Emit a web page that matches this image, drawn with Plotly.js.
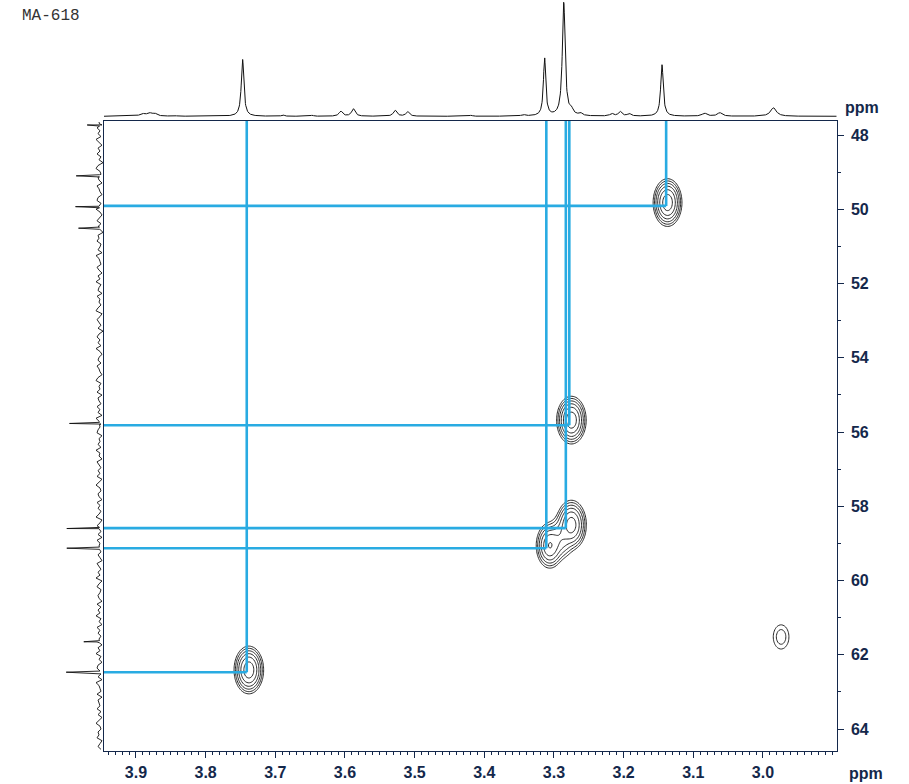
<!DOCTYPE html>
<html><head><meta charset="utf-8">
<script src="https://cdn.plot.ly/plotly-3.0.1.min.js"></script>
<style>html,body{margin:0;padding:0;background:#fff}</style>
</head><body><div id="chart" style="width:909px;height:784px"></div>
<script>
// ---- axis ranges (ppm) ----
const xRange = [3.9459, 2.8942];      // 1H, reversed
const yRange = [64.579, 47.623];      // 13C, reversed (top = 47.6)
const xTicks = [3.9, 3.8, 3.7, 3.6, 3.5, 3.4, 3.3, 3.2, 3.1, 3.0];
const yTicks = [48, 50, 52, 54, 56, 58, 60, 62, 64];

// ---- HSQC cross peaks ----
const peakH   = [3.137, 3.275, 3.275, 3.290, 3.306, 3.738, 2.974];
const peakC   = [49.82, 55.68, 58.50, 58.85, 59.06, 62.41, 61.52];
const peakAmp = [1.0,   1.0,   0.9,   0.25,  0.65,  1.0,   0.06];
const peakSigH = [0.0074, 0.0076, 0.0078, 0.0080, 0.0074, 0.0076, 0.0076];
const peakSigC = [0.23,   0.23,   0.24,   0.24,   0.23,   0.23,   0.22];

// ---- assignment cross-lines ----
const assignH = [3.741, 3.311, 3.283, 3.278, 3.139];
const assignC = [62.47, 59.13, 58.59, 55.82, 49.91];

// ---- 1H projection (top) ----
const hPpm = [3.747, 3.3135, 3.286, 3.145, 2.985, 3.606, 3.588, 3.528, 3.510, 3.689, 3.891, 3.881, 3.873, 3.846, 3.647, 3.419, 3.344, 3.275, 3.262, 3.217, 3.205, 3.192, 3.084, 3.062];
const hInt = [57, 58, 113.6, 51.5, 8.5, 5, 7.5, 6, 4.5, 1.5, 2.5, 3, 2.5, 1, 1, 1, 1.5, 5, 2.5, 2.5, 4.5, 2.5, 3, 3.5];
const hHw  = [0.0022, 0.0020, 0.0024, 0.0022, 0.005, 0.003, 0.003, 0.003, 0.003, 0.002, 0.004, 0.004, 0.004, 0.003, 0.002, 0.002, 0.003, 0.003, 0.003, 0.003, 0.003, 0.003, 0.004, 0.004];

// ---- 13C projection (left) ----
const cPpm = [47.73, 49.10, 49.93, 50.51, 55.77, 58.60, 59.13, 61.65, 62.47];
const cInt = [12.8, 23.8, 24.5, 21.5, 30.5, 33.2, 33.2, 16.2, 33.8];
const cNoise = [1,-2,3,0,2,-1,4,1,-2,2,0,3,-1,1,-3,2,4,0,-1,2,1,-2,3,1,0,-2,2,3,-1,1,4,0,-2,1,3,-1,2,0,-3,2,1,3,-1,0,2,-2,4,1,0,-1,3,1,-2,2,0,4,-1,1,2,-2,3,0,1,-1,2,4,-2,0,3,1,-1,2,-3,1,3,0,2,-1,4,0,-2,1,2,-1,3,1,0,-2,2,4,-1,1,0,3,-2,2,1,-1,3,0,2,-2,4,1,-1,0,2,3,-2,1,0,2,-1,4,0,1,-2,3,1,-1,2,0,3,-2,1,4,0,-1,2,1,-2,3,0,2,-1,1,4,-2,0,3,1,-1,2,-2,3,0,1,4,-1,2,0,-2,3,1,-1,2,0,4,-2,1,3,-1,0,2,1,-2,3,-1,2,0,4,-1,1,-2,3,0,2,-1,1,3,-2,2,0,4,-1,1,-2,2,3,0,-1,2,-2,4,1,0,-1,3,-2,2,1,0,3,-1,2,-2,1,4,0,-1,2,1,3,-2,0,2,-1];

// ---- styles ----
const NAVY = '#14284b';
const BLUE = '#29abe2';
const W = 909, H = 784;
const px = v => v / W, py = v => 1 - v / H;

// contour grid built from the peak list
const nx = 560, ny = 460;
const gx = [], gy = [];
for (let i = 0; i < nx; i++) gx.push(xRange[1] + (xRange[0] - xRange[1]) * i / (nx - 1));
for (let j = 0; j < ny; j++) gy.push(yRange[1] + (yRange[0] - yRange[1]) * j / (ny - 1));
const gz = gy.map(c => gx.map(h => {
  let s = 0;
  for (let k = 0; k < peakH.length; k++) {
    const dx = (h - peakH[k]) / peakSigH[k], dy = (c - peakC[k]) / peakSigC[k];
    s += peakAmp[k] * Math.exp(-0.5 * (dx * dx + dy * dy));
  }
  return Math.log(Math.max(s, 1e-5));
}));

// cross-lines
const lx = [], ly = [];
for (let i = 0; i < assignH.length; i++) {
  lx.push(assignH[i], assignH[i], null, xRange[0], assignH[i], null);
  ly.push(yRange[1], assignC[i], null, assignC[i], assignC[i], null);
}

// 1H projection line
const hx = [], hy = [];
const nh = 2400;
for (let i = 0; i < nh; i++) {
  const x = xRange[0] + (xRange[1] - xRange[0]) * i / (nh - 1);
  let s = 0;
  for (let k = 0; k < hPpm.length; k++) {
    const d = (x - hPpm[k]) / hHw[k];
    s += hInt[k] / (1 + d * d);
  }
  hx.push(x); hy.push(s);
}

// 13C projection: noise points + spikes
const cpts = [];
for (let i = 0; i < cNoise.length; i++) {
  cpts.push([47.65 + (64.55 - 47.65) * i / (cNoise.length - 1), cNoise[i]]);
}
for (let k = 0; k < cPpm.length; k++) {
  cpts.push([cPpm[k] - 0.03, 0.5], [cPpm[k], cInt[k]], [cPpm[k] + 0.03, 0.5]);
}
cpts.sort((a, b) => a[0] - b[0]);

const traces = [
  {type: 'contour', x: gx, y: gy, z: gz, xaxis: 'x', yaxis: 'y',
   autocontour: false, contours: {start: Math.log(0.02), end: Math.log(0.7), size: Math.log(2), coloring: 'lines'},
   colorscale: [[0, '#111'], [1, '#111']],
   line: {color: '#111', width: 0.9, smoothing: 1}, showscale: false, hoverinfo: 'skip'},
  {type: 'scatter', mode: 'lines', x: lx, y: ly, xaxis: 'x', yaxis: 'y',
   line: {color: BLUE, width: 2.6}, hoverinfo: 'skip'},
  {type: 'scatter', mode: 'lines', x: hx, y: hy, xaxis: 'x2', yaxis: 'y2',
   line: {color: '#111', width: 1}, hoverinfo: 'skip'},
  {type: 'scatter', mode: 'lines', x: cpts.map(p => p[1]), y: cpts.map(p => p[0]), xaxis: 'x3', yaxis: 'y3',
   line: {color: '#111', width: 0.9}, hoverinfo: 'skip'}
];

const tickFont = {family: 'Liberation Sans, Arial, sans-serif', size: 16, color: NAVY, weight: 'bold'};

const layout = {
  width: W, height: H, margin: {l: 0, r: 0, t: 0, b: 0},
  paper_bgcolor: '#fff', plot_bgcolor: 'rgba(0,0,0,0)', showlegend: false,
  xaxis: {domain: [px(104), px(836.7)], range: xRange, anchor: 'y',
    tickvals: xTicks, ticktext: xTicks.map(v => v.toFixed(1)), ticks: 'outside', ticklen: 6, tickwidth: 1, tickcolor: NAVY,
    minor: {dtick: 0.01, tick0: 3.0, ticks: 'outside', ticklen: 3, tickcolor: NAVY, tickwidth: 1},
    showline: true, linecolor: NAVY, linewidth: 1, mirror: true, showgrid: false, zeroline: false,
    tickfont: tickFont, ticklabelstandoff: 1},
  yaxis: {domain: [py(750.5), py(121)], range: yRange, anchor: 'x', side: 'right',
    tickvals: yTicks, ticks: 'outside', ticklen: 6, tickwidth: 1, tickcolor: NAVY,
    minor: {dtick: 1, tick0: 48, ticks: 'outside', ticklen: 3, tickcolor: NAVY, tickwidth: 1},
    showline: true, linecolor: NAVY, linewidth: 1, mirror: true, showgrid: false, zeroline: false,
    tickfont: tickFont, ticklabelstandoff: 4},
  xaxis2: {domain: [px(104), px(836.7)], range: xRange, anchor: 'y2', visible: false},
  yaxis2: {domain: [py(118), 1], range: [-1.7, 116.3], anchor: 'x2', visible: false},
  xaxis3: {domain: [px(60), px(104)], range: [40, -4], anchor: 'y3', visible: false},
  yaxis3: {domain: [py(750.5), py(121)], range: yRange, anchor: 'x3', visible: false},
  annotations: [
    {text: 'MA-618', xref: 'paper', yref: 'paper', x: px(20), y: py(16), xanchor: 'left', yanchor: 'middle',
     showarrow: false, font: {family: 'Liberation Mono, Courier New, monospace', size: 16, color: '#333'}},
    {text: 'ppm', xref: 'paper', yref: 'paper', x: px(862), y: py(107), xanchor: 'center', yanchor: 'middle',
     showarrow: false, font: tickFont},
    {text: 'ppm', xref: 'paper', yref: 'paper', x: px(866), y: py(773), xanchor: 'center', yanchor: 'middle',
     showarrow: false, font: tickFont}
  ]
};

Plotly.newPlot('chart', traces, layout, {staticPlot: true, displayModeBar: false});
</script>
</body></html>
